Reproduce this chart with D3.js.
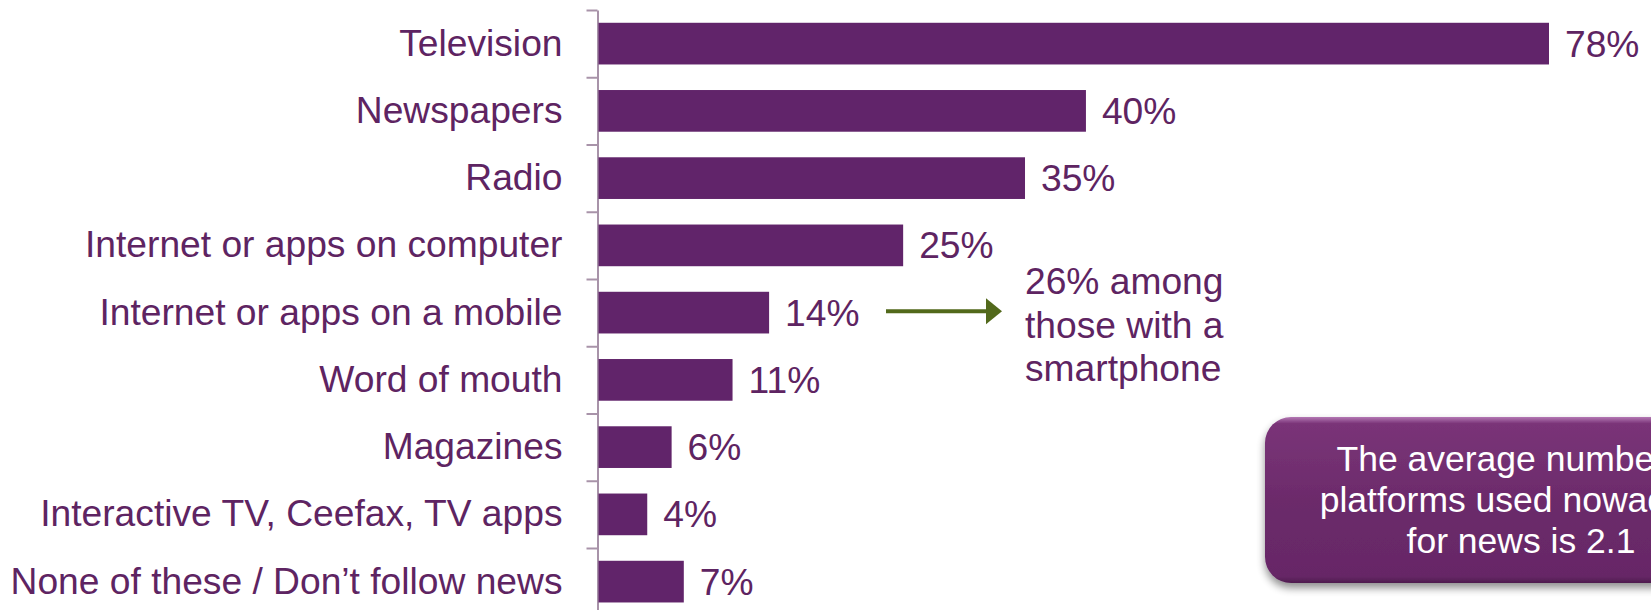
<!DOCTYPE html>
<html>
<head>
<meta charset="utf-8">
<script src="https://cdn.jsdelivr.net/npm/d3@7"></script>
<style>
  body { margin: 0; background: #fff; }
  svg { display: block; font-family: "Liberation Sans", Arial, sans-serif; }
</style>
</head>
<body>
<script>
// news platforms used
var categories = ["Television", "Newspapers", "Radio", "Internet or apps on computer",
                  "Internet or apps on a mobile", "Word of mouth", "Magazines",
                  "Interactive TV, Ceefax, TV apps", "None of these / Don\u2019t follow news"]
var values = [0.78, 0.40, 0.35, 0.25, 0.14, 0.11, 0.06, 0.04, 0.07]
var noteLines = ["26% among", "those with a", "smartphone"]
var boxLines = ["The average number of", "platforms used nowadays", "for news is 2.1"]

var purple = "#61246a"
var textCol = "#5e2462"
var fontSize = 37.2

var svg = d3.select("body").append("svg")
            .attr("width", 1651)
            .attr("height", 610)

var y = d3.scaleBand()
          .domain(categories)
          .range([10, 615.25])
          .paddingInner(0.38)
          .paddingOuter(0.19)

var x = d3.scaleLinear()
          .domain([0, 0.78])
          .range([598.5, 1549])

// tick marks sit between the bars
var yEdge = d3.scaleLinear().domain([0, categories.length]).range([10, 615.25])

svg.append("g")
   .attr("transform", "translate(597.5,0)")
   .call(d3.axisLeft(yEdge).tickValues(d3.range(categories.length + 1)).tickFormat("").tickSize(11).tickSizeOuter(0))
   .call(function(g) {
       g.selectAll("line, path").attr("stroke", "#a893a9").attr("stroke-width", 2)
   })

svg.append("g")
   .attr("transform", "translate(597.5,0)")
   .call(d3.axisLeft(y).tickSize(0).tickPadding(35))
   .call(function(g) {
       g.select(".domain").remove()
       g.selectAll("text").attr("font-size", fontSize).attr("fill", textCol)
        .attr("font-family", "'Liberation Sans', Arial, sans-serif")
   })

svg.selectAll("rect.bar")
   .data(values)
   .enter()
   .append("rect")
   .attr("class", "bar")
   .attr("x", x(0))
   .attr("y", function(d, i) { return y(categories[i]) })
   .attr("width", function(d) { return x(d) - x(0) })
   .attr("height", y.bandwidth())
   .attr("fill", purple)

svg.selectAll("text.val")
   .data(values)
   .enter()
   .append("text")
   .attr("class", "val")
   .attr("x", function(d) { return x(d) + 16 })
   .attr("y", function(d, i) { return y(categories[i]) + y.bandwidth() / 2 })
   .attr("dy", "0.35em")
   .attr("font-size", fontSize)
   .attr("fill", textCol)
   .text(function(d) { return Math.round(d * 100) + "%" })

// arrow to the smartphone note
var ay = y(categories[4]) + y.bandwidth() / 2 - 1.5
svg.append("line")
   .attr("x1", 886).attr("x2", 990)
   .attr("y1", ay).attr("y2", ay)
   .attr("stroke", "#52691b").attr("stroke-width", 4)
svg.append("path")
   .attr("d", "M986," + (ay - 13) + "L1002," + ay + "L986," + (ay + 13) + "Z")
   .attr("fill", "#52691b")

svg.append("g")
   .selectAll("text")
   .data(noteLines)
   .enter()
   .append("text")
   .attr("x", 1025)
   .attr("y", function(d, i) { return ay - 17 + i * 43.5 })
   .attr("font-size", fontSize)
   .attr("fill", textCol)
   .text(function(d) { return d })

// callout box
var defs = svg.append("defs")
var grad = defs.append("linearGradient").attr("id", "boxgrad")
               .attr("x1", 0).attr("y1", 0).attr("x2", 0).attr("y2", 1)
grad.append("stop").attr("offset", "0%").attr("stop-color", "#b478b4")
grad.append("stop").attr("offset", "4%").attr("stop-color", "#7a3478")
grad.append("stop").attr("offset", "50%").attr("stop-color", "#6c2b6b")
grad.append("stop").attr("offset", "96%").attr("stop-color", "#662766")
grad.append("stop").attr("offset", "100%").attr("stop-color", "#4e1c4e")

var shadow = defs.append("filter").attr("id", "shadow")
                 .attr("x", "-10%").attr("y", "-10%").attr("width", "130%").attr("height", "140%")
shadow.append("feGaussianBlur").attr("in", "SourceAlpha").attr("stdDeviation", 4)
shadow.append("feOffset").attr("dx", 0).attr("dy", 5).attr("result", "blur")
shadow.append("feComponentTransfer").append("feFuncA").attr("type", "linear").attr("slope", 0.45)
var merge = shadow.append("feMerge")
merge.append("feMergeNode")
merge.append("feMergeNode").attr("in", "SourceGraphic")

svg.append("rect")
   .attr("x", 1265).attr("y", 417)
   .attr("width", 510).attr("height", 166)
   .attr("rx", 26).attr("ry", 26)
   .attr("fill", "url(#boxgrad)")
   .attr("filter", "url(#shadow)")

svg.append("g")
   .selectAll("text")
   .data(boxLines)
   .enter()
   .append("text")
   .attr("x", 1521)
   .attr("y", function(d, i) { return 471 + i * 41 })
   .attr("text-anchor", "middle")
   .attr("font-size", 35.5)
   .attr("fill", "#ffffff")
   .text(function(d) { return d })
</script>
</body>
</html>
